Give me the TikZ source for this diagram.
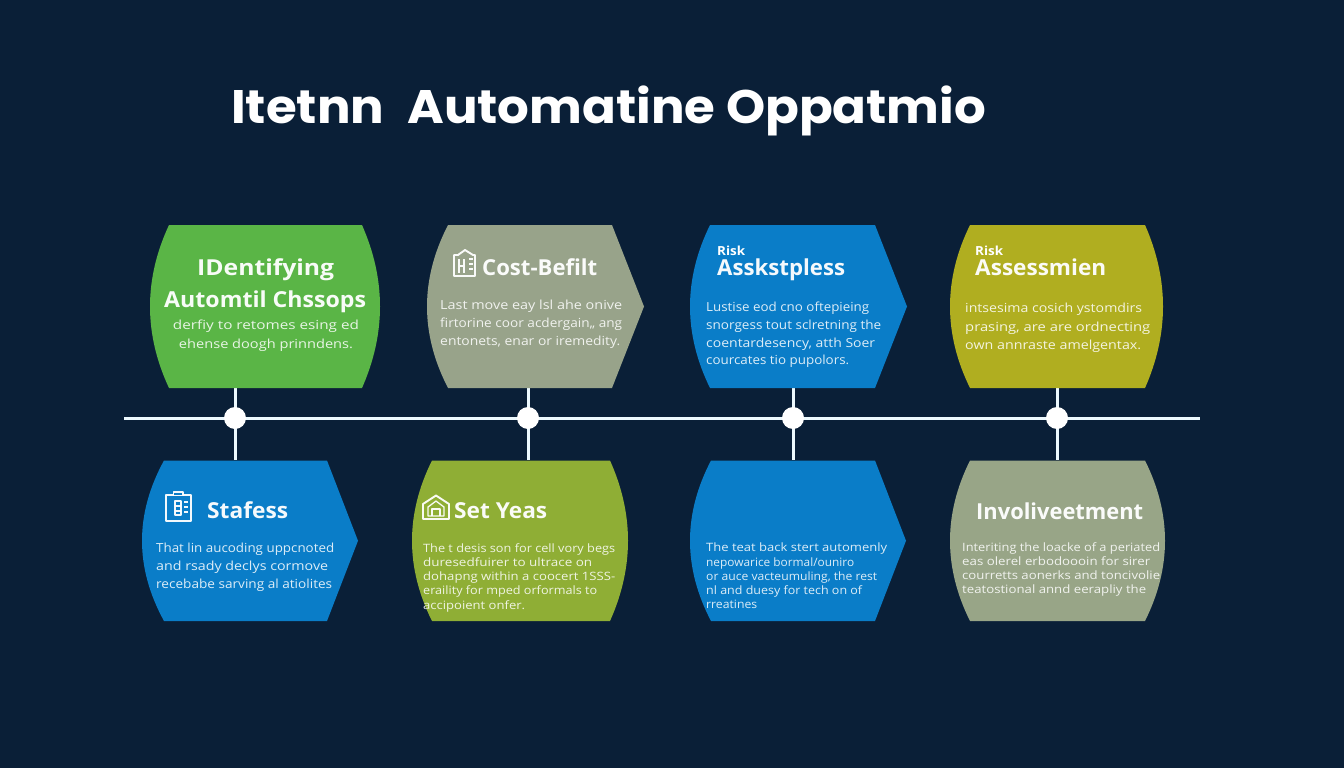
\documentclass[tikz,border=0pt]{standalone}
\usepackage{fontspec}
\setmainfont{Open Sans}
\newfontfamily\titlefont{Poppins}
\usetikzlibrary{calc}
\pgfdeclarelayer{bg}
\pgfdeclarelayer{links}
\pgfsetlayers{bg,links,main}
\definecolor{bgc}{HTML}{0A1F37}
\definecolor{cgreen}{HTML}{5AB546}
\definecolor{csage}{HTML}{98A38A}
\definecolor{cblue}{HTML}{0A7DC8}
\definecolor{colive}{HTML}{B0AE20}
\definecolor{clime}{HTML}{8FAE35}
\definecolor{csagb}{HTML}{98A587}
\newcommand{\fl}[2]{\resizebox{#1pt}{\height}{\vphantom{Ag}#2}}
% name, colour, left, top-left, top-right, right, top, bottom
\newcommand{\barrelbox}[8]{%
  \pgfmathsetmacro{\mm}{(#7+#8)/2}\pgfmathsetmacro{\hh}{#8-#7}
  \fill[#2] (#4,#7) -- (#5,#7)
    .. controls ({#5+0.667*(#6-#5)},{#7+\hh/6}) and (#6,{\mm-\hh/6}) .. (#6,\mm)
    .. controls (#6,{\mm+\hh/6}) and ({#5+0.667*(#6-#5)},{#8-\hh/6}) .. (#5,#8)
    -- (#4,#8)
    .. controls ({#4-0.667*(#4-#3)},{#8-\hh/6}) and (#3,{\mm+\hh/6}) .. (#3,\mm)
    .. controls (#3,{\mm-\hh/6}) and ({#4-0.667*(#4-#3)},{#7+\hh/6}) .. (#4,#7) -- cycle;
  \pgfmathsetmacro{\ww}{#6-#3}\pgfmathsetmacro{\cc}{(#6+#3)/2}
  \node[inner sep=0pt,minimum width=\ww pt,minimum height=\hh pt] (#1) at (\cc,\mm) {};
}
\newcommand{\tagbox}[8]{%
  \pgfmathsetmacro{\mm}{(#7+#8)/2}\pgfmathsetmacro{\hh}{#8-#7}
  \fill[#2] (#4,#7) -- (#5,#7) -- (#6,\mm) -- (#5,#8) -- (#4,#8)
    .. controls ({#4-0.667*(#4-#3)},{#8-\hh/6}) and (#3,{\mm+\hh/6}) .. (#3,\mm)
    .. controls (#3,{\mm-\hh/6}) and ({#4-0.667*(#4-#3)},{#7+\hh/6}) .. (#4,#7) -- cycle;
  \pgfmathsetmacro{\ww}{#6-#3}\pgfmathsetmacro{\cc}{(#6+#3)/2}
  \node[inner sep=0pt,minimum width=\ww pt,minimum height=\hh pt] (#1) at (\cc,\mm) {};
}
\tikzset{
  x=1pt,y=-1pt,
  link/.style={draw=white!93!cyan,line width=3pt},
  dot/.style={circle,fill=white,inner sep=0pt,minimum size=22pt},
  head/.style={anchor=base west,inner sep=0pt,text=white,font=\fontsize{22}{24}\selectfont\bfseries,text opacity=.96},
  small/.style={anchor=base west,inner sep=0pt,text=white,font=\fontsize{12.5}{14}\selectfont\bfseries},
  body/.style={anchor=north west,inner sep=0pt,align=left,text=white,text opacity=.86},
  icon/.style={draw=white,line width=1.9pt,line join=round,draw opacity=.95},
  iconthin/.style={icon,line width=1.3pt},
}
\begin{document}
\begin{tikzpicture}
\useasboundingbox (0,0) rectangle (1344,768);
\begin{pgfonlayer}{bg}
\fill[bgc] (0,0) rectangle (1344,768);
\end{pgfonlayer}
\node[anchor=base west,inner sep=0pt,text=white] (title) at (231,124)
  {\resizebox{755pt}{\height}{\titlefont\fontsize{47}{50}\selectfont\bfseries Itetnn\hspace{.25em} Automatine Oppatmio}};

\barrelbox{b1}{cgreen}{150}{169}{362}{380}{225}{388}
\tagbox{b2}{csage}{427}{448}{612}{644}{225}{388}
\tagbox{b3}{cblue}{690}{710}{875}{907}{225}{388}
\barrelbox{b4}{colive}{950}{970}{1145}{1163}{225}{388}
\tagbox{b5}{cblue}{142}{164}{327}{358}{460.5}{621}
\barrelbox{b6}{clime}{412}{432}{610}{628}{460.5}{621}
\tagbox{b7}{cblue}{690}{711}{875}{906}{460.5}{621}
\barrelbox{b8}{csagb}{950}{970}{1145}{1165}{460.5}{621}

\coordinate (spineL) at (124,418);
\coordinate (spineR) at (1200,418);
\node[dot] (d1) at (235,418) {};
\node[dot] (d2) at (528,418) {};
\node[dot] (d3) at (793,418) {};
\node[dot] (d4) at (1057,418) {};
\begin{pgfonlayer}{links}
\draw[link] (spineL) -- (spineR);
\draw[link] (d1.center) -- (d1.center |- b1.south);
\draw[link] (d1.center) -- (d1.center |- b5.north);
\draw[link] (d2.center) -- (d2.center |- b2.south);
\draw[link] (d2.center) -- (d2.center |- b6.north);
\draw[link] (d3.center) -- (d3.center |- b3.south);
\draw[link] (d3.center) -- (d3.center |- b7.north);
\draw[link] (d4.center) -- (d4.center |- b4.south);
\draw[link] (d4.center) -- (d4.center |- b8.north);
\end{pgfonlayer}

% headings
\node[head] (h1a) at (197,275) {\fl{137}{IDentifying}};
\node[head] (h1b) at (164,307) {\fl{202}{Automtil Chssops}};
\node[head] (h2) at (482,275) {\fl{115}{Cost-Befilt}};
\node[small] (h3a) at (717,255) {\fl{28}{Risk}};
\node[head] (h3b) at (717,275) {\fl{128}{Asskstpless}};
\node[small] (h4a) at (975,255) {\fl{28}{Risk}};
\node[head] (h4b) at (975,275) {\fl{131}{Assessmien}};
\node[head] (h5) at (207,518) {\fl{81}{Stafess}};
\node[head] (h6) at (454,518) {\fl{93}{Set Yeas}};
\node[head] (h8) at (976,519) {\fl{167}{Involiveetment}};

% body texts
\node[body,font=\fontsize{12.5}{19}\selectfont,align=center,anchor=north] (t1) at (266,320)
  {\fl{186}{derfiy to retomes esing ed}\\ \fl{174}{ehense doogh prinndens.}};
\node[body,font=\fontsize{12.5}{18}\selectfont] (t2) at (440,300)
  {\fl{182}{Last move eay lsl ahe onive}\\ \fl{182}{firtorine coor acdergain,, ang}\\ \fl{180}{entonets, enar or iremedity.}};
\node[body,font=\fontsize{12.5}{17.7}\selectfont] (t3) at (706,302)
  {\fl{163}{Lustise eod cno oftepieing}\\ \fl{175}{snorgess tout sclretning the}\\ \fl{169}{coentardesency, atth Soer}\\ \fl{143}{courcates tio pupolors.}};
\node[body,font=\fontsize{12.5}{18.5}\selectfont] (t4) at (965,303)
  {\fl{177}{intsesima cosich ystomdirs}\\ \fl{185}{prasing, are are ordnecting}\\ \fl{176}{own annraste amelgentax.}};
\node[body,font=\fontsize{12.5}{18}\selectfont] (t5) at (156,543)
  {\fl{178}{That lin aucoding uppcnoted}\\ \fl{172}{and rsady declys cormove}\\ \fl{176}{recebabe sarving al atiolites}};
\node[body,font=\fontsize{11.5}{14.3}\selectfont] (t6) at (423,543)
  {\fl{192}{The t desis son for cell vory begs}\\ \fl{169}{duresedfuirer to ultrace on}\\ \fl{192}{dohapng within a coocert 1SSS-}\\ \fl{174}{eraility for mped orformals to}\\ \fl{102}{accipoient onfer.}};
\node[body,font=\fontsize{11.5}{14.1}\selectfont] (t7) at (706,543)
  {\fl{181}{The teat back stert automenly}\\ \fl{148}{nepowarice bormal/ouniro}\\ \fl{171}{or auce vacteumuling, the rest}\\ \fl{156}{nl and duesy for tech on of}\\ \fl{51}{rreatines}};
\node[body,font=\fontsize{11.5}{14}\selectfont] (t8) at (962,542)
  {\fl{198}{Interiting the loacke of a periated}\\ \fl{188}{eas olerel erbodoooin for sirer}\\ \fl{198}{courretts aonerks and toncivolie}\\ \fl{184}{teatostional annd eerapliy the}};

% icons
\draw[icon] (458,255) -- (465,250) -- (473,255) -- (475,255) -- (475,276) -- (454,276) -- (454,255) -- cycle;
\draw[iconthin] (459,259) -- (459,273) (464,259) -- (464,273) (469,259) -- (473,259) (469,264) -- (473,264) (469,269) -- (473,269) (459,266) -- (464,266);
\draw[icon] (166,495) rectangle (191,521);
\draw[icon,fill=cblue] (173.5,495.5) -- (173.5,492) -- (183,492) -- (183,495.5) -- cycle;
\draw[iconthin] (175,501) rectangle (181,515);
\draw[iconthin] (175,506) -- (181,506) (175,511) -- (181,511) (184,502) -- (188,502) (184,507) -- (188,507) (184,512) -- (188,512);
\draw[icon] (423,504) -- (436,495.5) -- (449,504) -- (449,519) -- (423,519) -- cycle;
\draw[iconthin] (428,507) -- (436,501) -- (444,507) -- (444,516) -- (428,516) -- cycle;
\draw[iconthin] (432,516) -- (432,509) -- (440,509) -- (440,516);
\end{tikzpicture}
\end{document}
